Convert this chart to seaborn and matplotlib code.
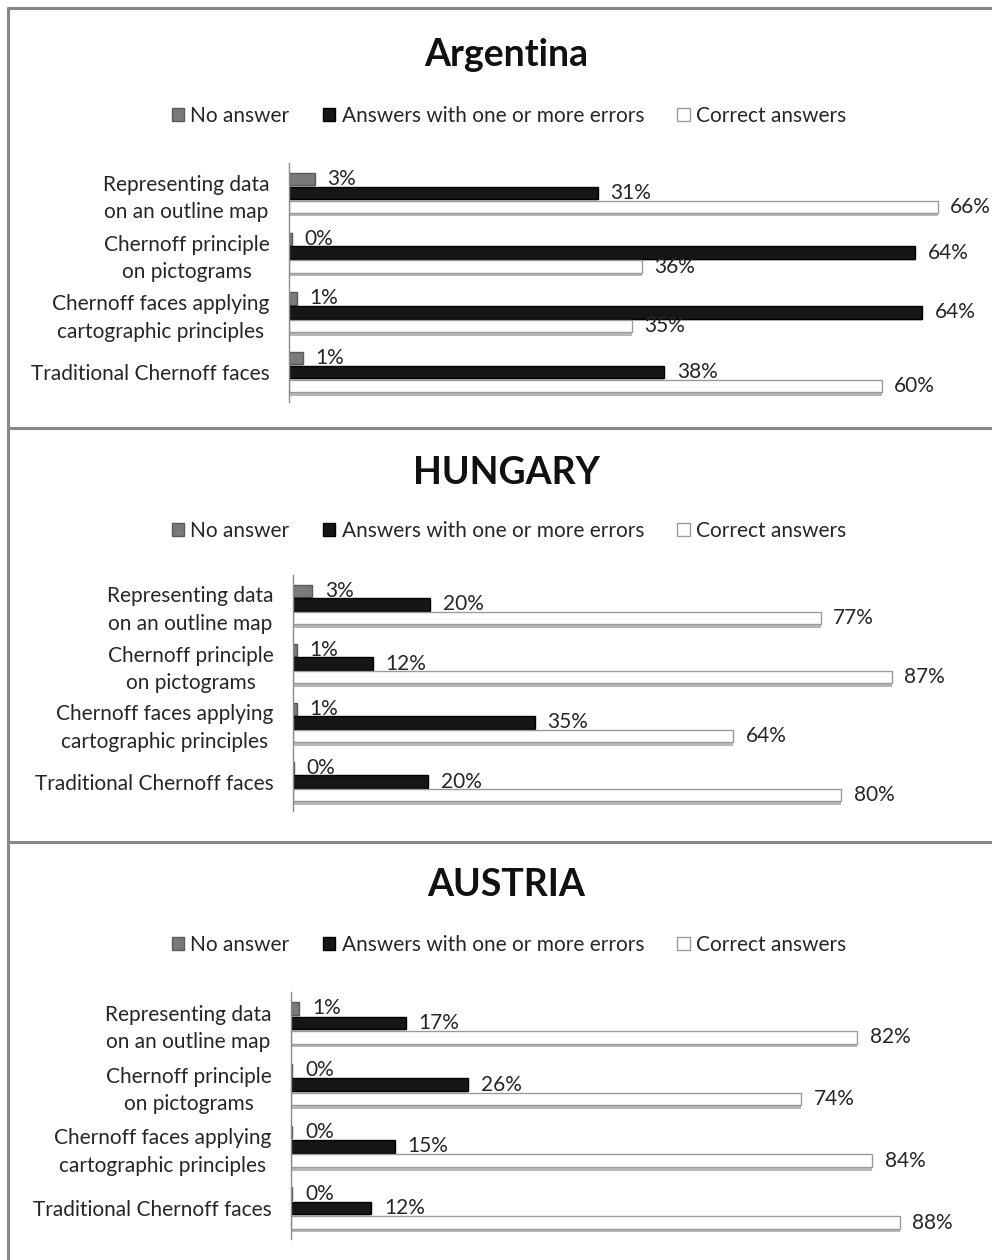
import matplotlib
matplotlib.use("Agg")
import matplotlib.pyplot as plt
import matplotlib.patheffects as pe
from matplotlib.lines import Line2D
from matplotlib.patches import Patch
import pandas as pd
import seaborn as sns

categories = [
    "Representing data\non an outline map",
    "Chernoff principle\non pictograms",
    "Chernoff faces applying\ncartographic principles",
    "Traditional Chernoff faces",
]
series_names = ["No answer", "Answers with one or more errors", "Correct answers"]

countries = ["Argentina", "HUNGARY", "AUSTRIA"]

argentina_no_answer = [2.6, 0.3, 0.8, 1.4]
argentina_errors = [31.4, 63.7, 64.4, 38.2]
argentina_correct = [66.0, 35.9, 34.9, 60.3]

hungary_no_answer = [2.8, 0.6, 0.6, 0.1]
hungary_errors = [19.9, 11.6, 35.1, 19.6]
hungary_correct = [76.6, 86.9, 63.9, 79.6]

austria_no_answer = [1.2, 0.2, 0.2, 0.2]
austria_errors = [16.6, 25.6, 15.0, 11.6]
austria_correct = [81.8, 73.7, 84.0, 88.0]

x_max = [70, 100, 100]

W, H = 992, 1260
FONT = ["Lato", "DejaVu Sans"]
TEXT = "#262626"

sns.set_style("white")
plt.rcParams["font.family"] = FONT

colors = {"No answer": "#7a7a7a",
          "Answers with one or more errors": "#161616",
          "Correct answers": "#ffffff"}
edges = {"No answer": "#5a5a5a",
         "Answers with one or more errors": "#000000",
         "Correct answers": "#9a9a9a"}


def build_df(no_answer, errors, correct):
    rows = []
    for name, vals in zip(series_names, [no_answer, errors, correct]):
        for cat, v in zip(categories, vals):
            rows.append({"category": cat, "series": name, "value": v})
    return pd.DataFrame(rows)


def rect(left, top, right, bottom):
    return [left / W, 1 - bottom / H, (right - left) / W, (bottom - top) / H]


panels = [
    dict(df=build_df(argentina_no_answer, argentina_errors, argentina_correct),
         box=(289, 163, 977, 402), title_y=66, legend_y=116),
    dict(df=build_df(hungary_no_answer, hungary_errors, hungary_correct),
         box=(293, 575, 982, 811), title_y=484, legend_y=531),
    dict(df=build_df(austria_no_answer, austria_errors, austria_correct),
         box=(291, 992, 983, 1239), title_y=896, legend_y=945),
]

fig = plt.figure(figsize=(W / 100, H / 100), dpi=100)

for i, p in enumerate(panels):
    ax = fig.add_axes(rect(*p["box"]))
    sns.barplot(data=p["df"], y="category", x="value", hue="series",
                order=categories, hue_order=series_names, palette=colors,
                orient="h", width=0.7, gap=0.12, legend=False, ax=ax)

    for name, cont in zip(series_names, ax.containers):
        for bar in cont:
            bar.set_edgecolor(edges[name])
            bar.set_linewidth(1.0)
            if name == "Correct answers":
                bar.set_path_effects([
                    pe.SimplePatchShadow(offset=(0, -2.5), shadow_rgbFace="#b0b0b0", alpha=0.9),
                    pe.Normal()])
            else:
                bar.set_path_effects([
                    pe.SimplePatchShadow(offset=(0, -1.5), shadow_rgbFace="#c8c8c8", alpha=0.8),
                    pe.Normal()])
        ax.bar_label(cont, labels=[f"{v:.0f}%" for v in cont.datavalues],
                     padding=9, fontsize=15, color=TEXT, clip_on=False)

    ax.set_xlim(0, x_max[i])
    ax.set_xlabel("")
    ax.set_ylabel("")
    ax.set_xticks([])
    ax.tick_params(axis="y", length=0, pad=14, labelsize=15, labelcolor=TEXT)
    for lbl in ax.get_yticklabels():
        lbl.set_multialignment("center")
        lbl.set_linespacing(1.45)
    for side in ["top", "right", "bottom"]:
        ax.spines[side].set_visible(False)
    ax.spines["left"].set_color("#8c8c8c")
    ax.spines["left"].set_linewidth(1.0)
    ax.patch.set_alpha(0)

    fig.text(506 / W, 1 - p["title_y"] / H, countries[i], ha="center",
             va="baseline", fontsize=27, fontweight="bold", color="#111111")

    handles = [Patch(facecolor=colors[n], edgecolor=edges[n], label=n)
               for n in series_names]
    fig.legend(handles=handles, loc="center", ncol=3,
               bbox_to_anchor=(509 / W, 1 - p["legend_y"] / H),
               frameon=False, fontsize=15, labelcolor=TEXT,
               handlelength=0.6, handleheight=0.6, handletextpad=0.3,
               columnspacing=1.6)

# panel frame lines
line_kw = dict(color="#878787", linewidth=2.2, transform=fig.transFigure)
fig.add_artist(Line2D([8 / W, 8 / W], [1 - 8 / H, 0], **line_kw))
for y in [8, 428, 842]:
    fig.add_artist(Line2D([8 / W, 1], [1 - y / H, 1 - y / H], **line_kw))

fig.savefig("out.png", dpi=100)
